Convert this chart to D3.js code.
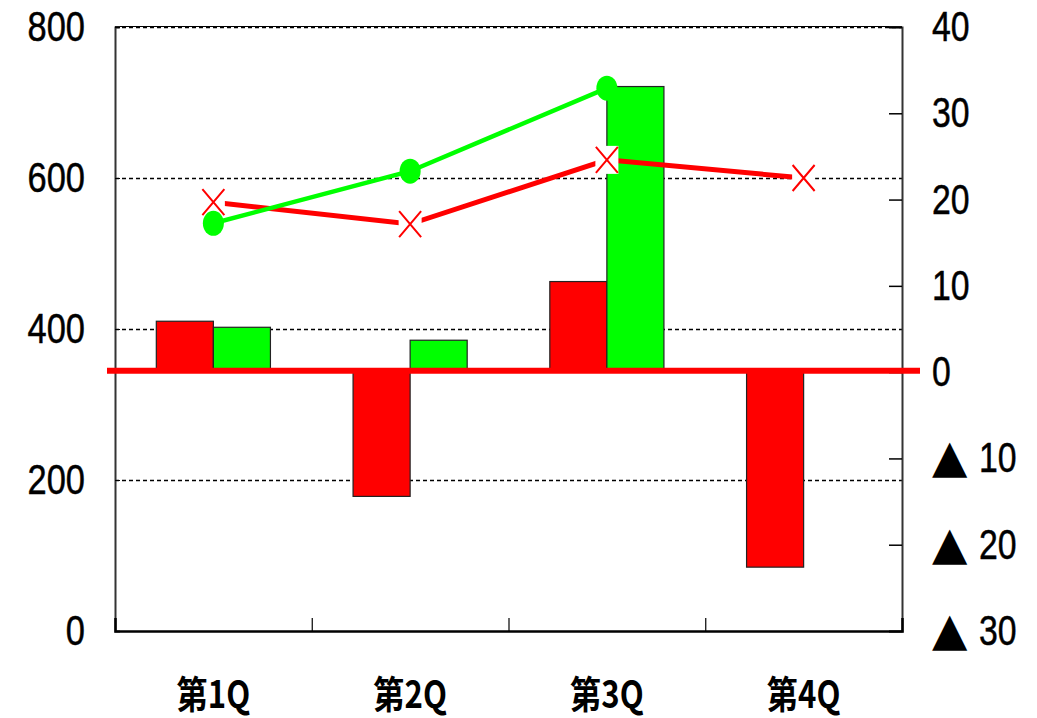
<!DOCTYPE html>
<html><head><meta charset="utf-8">
<script src="https://cdn.jsdelivr.net/npm/d3@7"></script>
<style>
body{margin:0;background:#fff;}
svg{display:block;}
</style></head>
<body>
<svg id="chart" width="1037" height="718"></svg>
<script>
const categories = ["第1Q","第2Q","第3Q","第4Q"];
const barRed = [5.9, -14.4, 10.5, -22.6];
const barGreen = [5.2, 3.7, 33.1, null];
const lineRed = [568, 539, 624, 600];
const lineGreen = [540, 609, 719, null];
const leftTicks = [0, 200, 400, 600, 800];
const rightTicks = [40, 30, 20, 10, 0, -10, -20, -30];
const rightTickLabels = ["40","30","20","10","0","▲ 10","▲ 20","▲ 30"];

const svg = d3.select("#chart");
const m = {l:115, t:27, r:135, b:87};
const W = 1037 - m.l - m.r, H = 718 - m.t - m.b;
const g = svg.append("g").attr("transform", `translate(${m.l},${m.t})`);

const x0 = d3.scaleBand().domain(categories).range([0, W]).paddingInner(0.42).paddingOuter(0.21);
const x1 = d3.scaleBand().domain(["red","green"]).range([0, x0.bandwidth()]);
const xb = d3.scaleLinear().domain([0, 4]).range([0, W]);
const yL = d3.scaleLinear().domain([0, 800]).range([H, 0]);
const yR = d3.scaleLinear().domain([-30, 40]).range([H, 0]);

const numFont = "'Liberation Sans',Arial,sans-serif";
const SX = 0.82;
const DIGIT = 18.8;

// gridlines
g.append("g").selectAll("line").data(leftTicks.filter(d => d > 0)).join("line")
  .attr("x1", 0).attr("x2", W).attr("y1", d => Math.round(yL(d)) + 0.5).attr("y2", d => Math.round(yL(d)) + 0.5)
  .attr("stroke", "#000").attr("stroke-width", 1.3).attr("stroke-dasharray", "4,3");
g.append("line").attr("x1",0).attr("x2",W).attr("y1",-0.5).attr("y2",-0.5).attr("stroke","#000").attr("stroke-width",1);

// bars
const barData = [];
categories.forEach((c, i) => {
  if (barRed[i] != null) barData.push({c, s:"red", v:barRed[i]});
  if (barGreen[i] != null) barData.push({c, s:"green", v:barGreen[i]});
});
g.append("g").selectAll("rect").data(barData).join("rect")
  .attr("x", d => x0(d.c) + x1(d.s))
  .attr("width", x1.bandwidth())
  .attr("y", d => yR(Math.max(0, d.v)))
  .attr("height", d => Math.abs(yR(d.v) - yR(0)))
  .attr("fill", d => d.s === "red" ? "#ff0000" : "#00ff00")
  .attr("stroke", "#222").attr("stroke-width", 1.2);

// left axis
const axL = g.append("g").call(d3.axisLeft(yL).tickValues(leftTicks).tickSize(-5).tickPadding(30 / SX));
axL.select(".domain").attr("stroke", "#333").attr("stroke-width", 2);
axL.selectAll("text").attr("font-family", numFont).attr("font-size", 42).attr("fill", "#000")
  .attr("stroke", "#000").attr("stroke-width", 0.5)
  .attr("transform", `scale(${SX},1)`);

// right axis
const axR = g.append("g").attr("transform", `translate(${W},0)`)
  .call(d3.axisRight(yR).tickValues(rightTicks).tickSize(-13).tickPadding(30)
    .tickFormat((d, i) => rightTickLabels[i]));
axR.select(".domain").attr("stroke", "#333").attr("stroke-width", 2);
axR.selectAll(".tick line").attr("stroke-width", 1.5);
axR.selectAll("text").attr("font-family", numFont).attr("font-size", 42).attr("fill", "#000")
  .each(function() {
    const t = d3.select(this);
    const s = t.text();
    t.text("");
    let digits = s;
    if (s.startsWith("▲")) {
      t.append("tspan").attr("font-family", "'DejaVu Sans',sans-serif").attr("font-size", 46).text("▲");
      digits = s.slice(1).trim();
      t.append("tspan").text(" ").attr("font-size", 42);
    }
    t.append("tspan").attr("stroke", "#000").attr("stroke-width", 0.5)
      .attr("textLength", digits.length * DIGIT).attr("lengthAdjust", "spacingAndGlyphs").text(digits);
  });

// bottom axis: labels
const axB = g.append("g").attr("transform", `translate(0,${H})`)
  .call(d3.axisBottom(x0).tickSize(0).tickPadding(50));
axB.select(".domain").remove();
axB.selectAll("text").attr("font-family", "'Noto Sans CJK JP',sans-serif").attr("font-size", 38)
  .attr("font-weight", "bold").attr("fill", "#000").attr("transform", "scale(0.82,1)");
// bottom axis: ticks at boundaries
const axB2 = g.append("g").attr("transform", `translate(0,${H})`)
  .call(d3.axisTop(xb).tickValues([1,2,3]).tickSize(13).tickFormat(""));
axB2.select(".domain").attr("stroke", "#000").attr("stroke-width", 2.5);
axB2.selectAll(".tick line").attr("stroke-width", 1.2);

// zero line
g.append("line").attr("x1", -8).attr("x2", W + 18).attr("y1", yR(0) - 1.5).attr("y2", yR(0) - 1.5)
  .attr("stroke", "#ff0000").attr("stroke-width", 6);

const cx = c => x0(c) + x0.bandwidth() / 2;

// red line
const redPts = categories.map((c, i) => ({c, v: lineRed[i]})).filter(d => d.v != null);
g.append("path").datum(redPts)
  .attr("d", d3.line().x(d => cx(d.c)).y(d => yL(d.v)))
  .attr("fill", "none").attr("stroke", "#ff0000").attr("stroke-width", 5);
const rm = g.append("g").selectAll("g").data(redPts).join("g")
  .attr("transform", d => `translate(${cx(d.c)},${yL(d.v)})`);
rm.append("rect").attr("x", -11.5).attr("y", -14).attr("width", 23).attr("height", 28).attr("fill", "#fff");
rm.append("path").attr("d", "M-11,-13L11,13M11,-13L-11,13").attr("stroke", "#ff0000").attr("stroke-width", 2).attr("fill","none");

// green line
const greenPts = categories.map((c, i) => ({c, v: lineGreen[i]})).filter(d => d.v != null);
g.append("path").datum(greenPts)
  .attr("d", d3.line().x(d => cx(d.c)).y(d => yL(d.v)))
  .attr("fill", "none").attr("stroke", "#00ff00").attr("stroke-width", 4.5);
g.append("g").selectAll("ellipse").data(greenPts).join("ellipse")
  .attr("cx", d => cx(d.c)).attr("cy", d => yL(d.v)).attr("rx", 10.5).attr("ry", 12.5)
  .attr("fill", "#00ff00");
</script>
</body></html>
